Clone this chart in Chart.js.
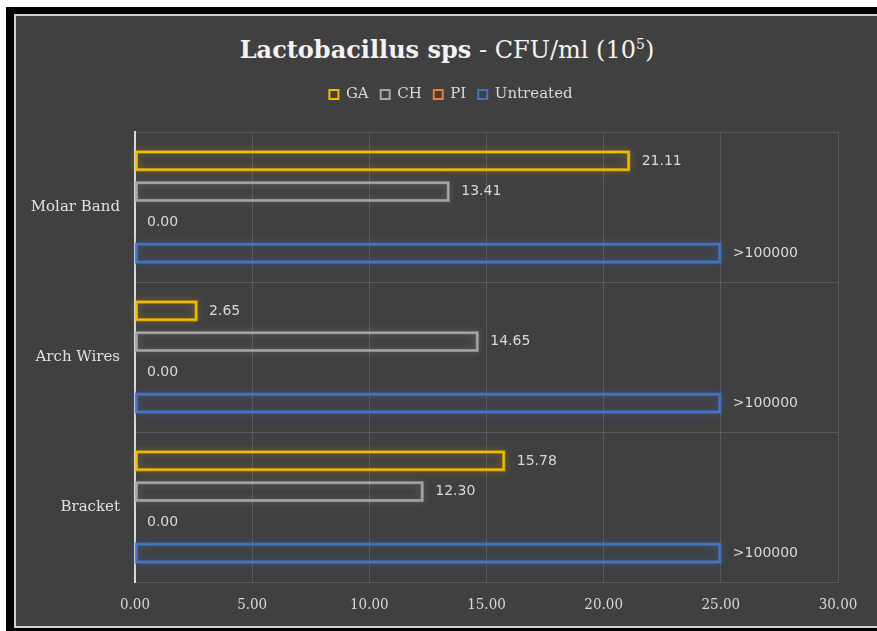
<!DOCTYPE html>
<html>
<head>
<meta charset="utf-8">
<script src="https://cdn.jsdelivr.net/npm/chart.js@4"></script>
<style>
html, body { margin: 0; padding: 0; overflow: hidden; background: #fff; }
#outer { position: absolute; left: 6px; top: 7px; right: -40px; height: 624px; background: #000; }
#frame { position: absolute; left: 14px; top: 14px; right: -40px; height: 610px; background: #404040; border: 2px solid #d0d0d0; border-right: none; }
#title { position: absolute; left: 0; top: 29px; width: 894px; text-align: center; color: #f2f2f2; font: 24px "DejaVu Serif"; line-height: 30px; }
#title sup { font-size: 14px; }
canvas { position: absolute; left: 0; top: 0; }
</style>
</head>
<body>
<div id="outer"></div>
<div id="frame"></div>
<div id="title"><b>Lactobacillus sps</b> - CFU/ml (10<sup>5</sup>)</div>
<canvas id="bar-chart" width="877" height="631"></canvas>
<script>
const categories = ['Molar Band', 'Arch Wires', 'Bracket'];
const gaValues = [21.11, 2.65, 15.78];
const chValues = [13.41, 14.65, 12.30];
const piValues = [0.00, 0.00, 0.00];
const untreatedValues = [25, 25, 25];   // bar drawn to 25, labelled >100000
const untreatedText = '>100000';
const xMin = 0, xMax = 30, xStep = 5;

// soft glow round the bar outlines, drawn under the library's own border
const glow = {
    id: 'glow',
    beforeDatasetDraw(chart, args) {
        const ds = chart.data.datasets[args.index];
        const ctx = chart.ctx;
        ctx.save();
        ctx.shadowColor = ds.glowColor;
        ctx.shadowBlur = 8;
        ctx.strokeStyle = ds.glowColor;
        ctx.lineWidth = 3;
        chart.getDatasetMeta(args.index).data.forEach(bar => {
            const w = bar.x - bar.base;
            if (w <= 0) return;
            for (let k = 0; k < 2; k++) {
                ctx.strokeRect(bar.base + 1, bar.y - bar.height / 2 + 1, w - 2, bar.height - 2);
            }
        });
        ctx.restore();
    }
};

// value labels at the end of each bar
const endLabels = {
    id: 'endLabels',
    afterDatasetsDraw(chart) {
        const ctx = chart.ctx;
        ctx.save();
        ctx.font = '14px "DejaVu Sans"';
        ctx.fillStyle = '#d9d9d9';
        ctx.textBaseline = 'middle';
        ctx.textAlign = 'left';
        chart.data.datasets.forEach((ds, i) => {
            chart.getDatasetMeta(i).data.forEach((bar, j) => {
                const txt = ds.labelText ? ds.labelText : ds.data[j].toFixed(2);
                ctx.fillText(txt, bar.x + 12, bar.y);
            });
        });
        ctx.restore();
    }
};

// extra room under the legend
const legendGap = {
    id: 'legendGap',
    beforeInit(chart) {
        const fit = chart.legend.fit;
        chart.legend.fit = function () {
            fit.call(this);
            this.height += 20;
        };
    }
};

new Chart(document.getElementById('bar-chart'), {
    type: 'bar',
    data: {
        labels: categories,
        datasets: [
            { label: 'GA', data: gaValues, borderColor: '#F2BA00', glowColor: 'rgba(242,186,0,0.45)' },
            { label: 'CH', data: chValues, borderColor: '#A5A5A5', glowColor: 'rgba(165,165,165,0.45)' },
            { label: 'PI', data: piValues, borderColor: '#ED7D31', glowColor: 'rgba(237,125,49,0.45)' },
            { label: 'Untreated', data: untreatedValues, borderColor: '#4472C4', glowColor: 'rgba(68,114,196,0.55)', labelText: untreatedText }
        ].map(d => Object.assign(d, {
            backgroundColor: 'rgba(0,0,0,0)',
            borderWidth: 2,
            borderSkipped: false,
            categoryPercentage: 0.82,
            barPercentage: 0.645
        }))
    },
    options: {
        responsive: false,
        animation: false,
        indexAxis: 'y',
        layout: { padding: { top: 75, left: 25, right: 0, bottom: 0 } },
        plugins: {
            title: { display: false },
            tooltip: { enabled: false },
            legend: {
                display: true,
                position: 'top',
                labels: {
                    boxWidth: 9,
                    boxHeight: 9,
                    padding: 12,
                    color: '#d9d9d9',
                    font: { family: '"DejaVu Serif"', size: 15 }
                }
            }
        },
        scales: {
            x: {
                type: 'linear',
                min: xMin,
                max: xMax,
                ticks: {
                    stepSize: xStep,
                    color: '#d9d9d9',
                    padding: 14,
                    font: { family: '"DejaVu Serif Condensed"', size: 15 },
                    callback: v => v.toFixed(2)
                },
                grid: { color: '#595959', drawTicks: false },
                border: { color: '#595959' },
                afterFit: s => { s.height = 49; }
            },
            y: {
                type: 'category',
                ticks: {
                    color: '#e0e0e0',
                    padding: 15,
                    font: { family: '"DejaVu Serif"', size: 15 }
                },
                grid: { color: '#595959', drawTicks: false },
                border: { color: '#d9d9d9', width: 2 },
                afterFit: s => { s.width = 110; }
            },
            y2: {
                type: 'linear',
                position: 'right',
                ticks: { display: false },
                grid: { display: false },
                border: { display: false },
                afterFit: s => { s.width = 39; }
            }
        }
    },
    plugins: [glow, endLabels, legendGap]
});
</script>
</body>
</html>
